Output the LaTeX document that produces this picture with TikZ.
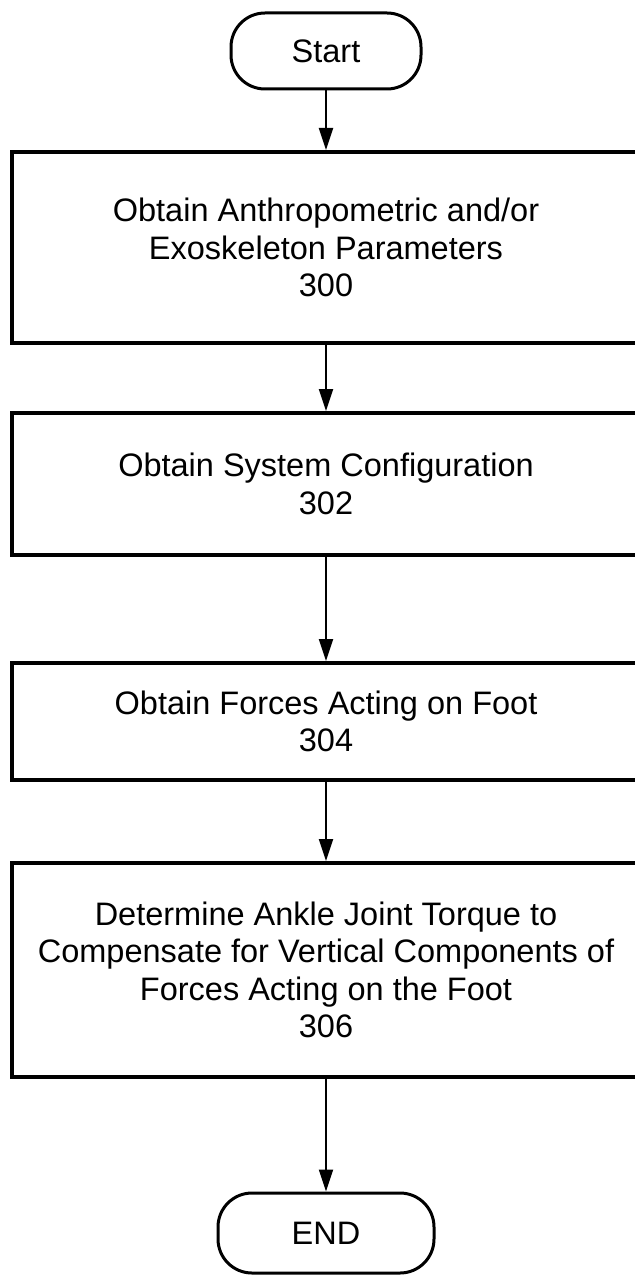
\documentclass[tikz,border=0pt]{standalone}
\usepackage{fontspec}
\setmainfont{Liberation Sans}
\usetikzlibrary{arrows.meta}

\begin{document}
\begin{tikzpicture}[x=1pt,y=-1pt,thick,
  every node/.style={font=\fontsize{32.5}{37.5}\selectfont},
  term/.style={draw,line width=3pt,rounded corners=34pt,minimum height=76pt,inner sep=0pt},
  block/.style={draw,line width=4pt,minimum width=628pt,inner sep=0pt,align=center},
  flow/.style={line width=2pt,-{Triangle[length=22pt,width=14pt]}}]
\useasboundingbox (0,0) rectangle (634,1276);

%Draw Terminals
\node[term,minimum width=190pt] (start) at (326,51) {Start};
\node[term,minimum width=216pt,minimum height=80pt] (end) at (326,1233) {END};

%Draw Process Blocks
\node[block,minimum height=191pt] (b300) at (326,247.5) {Obtain Anthropometric and/or\\Exoskeleton Parameters\\300};
\node[block,minimum height=142pt] (b302) at (326,484) {Obtain System Configuration\\302};
\node[block,minimum height=117pt] (b304) at (326,721.5) {Obtain Forces Acting on Foot\\304};
\node[block,minimum height=214pt] (b306) at (326,970) {Determine Ankle Joint Torque to\\Compensate for Vertical Components of\\Forces Acting on the Foot\\306};

%Draw Flow Arrows
\draw[flow] (start) -- (b300);
\draw[flow] (b300) -- (b302);
\draw[flow] (b302) -- (b304);
\draw[flow] (b304) -- (b306);
\draw[flow] (b306) -- (end);

\end{tikzpicture}
\end{document}
